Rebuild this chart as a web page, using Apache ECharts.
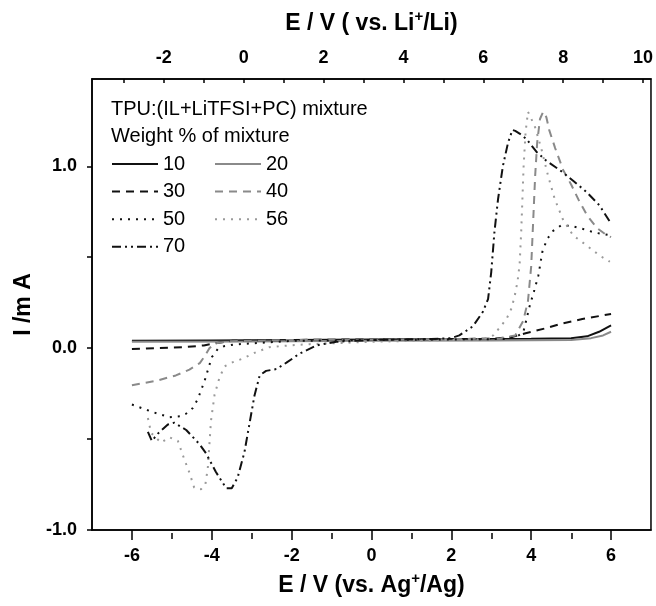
<!DOCTYPE html>
<html lang="en">
<head>
    <meta charset="UTF-8">
    <title>TPU mixture CV</title>
    <style>
        html, body {
            margin: 0;
            padding: 0;
            background: #fff;
        }

        #main {
            width: 656px;
            height: 606px;
        }
    </style>
</head>
<body>
<div id="main"></div>
<script src="https://cdn.jsdelivr.net/npm/echarts/dist/echarts.min.js"></script>
<script>
    // tick values
    var bottomLabels = [-6, -4, -2, 0, 2, 4, 6];
    var bottomMinor = [-5, -3, -1, 1, 3, 5];
    var topLabels = [-2, 0, 2, 4, 6, 8, 10];
    var topTicks = [-3, -2, -1, 0, 1, 2, 3, 4, 5, 6, 7, 8, 9, 10];
    var leftLabels = [-1, 0, 1];
    var leftTicks = [-1, -0.5, 0, 0.5, 1];

    // [E vs Ag+/Ag (V), I (mA)]
    var wt10 = [[-6.0, 0.04], [-4, 0.042], [-2, 0.045], [0, 0.047], [2, 0.05], [4, 0.052], [5.0, 0.055],
        [5.4, 0.065], [5.7, 0.09], [6.0, 0.125]];
    var wt20 = [[-6, 0.035], [-3, 0.037], [0, 0.04], [3, 0.042], [5, 0.045], [5.5, 0.055], [5.8, 0.07], [6, 0.09]];
    var wt30 = [[-6, -0.005], [-5.4, 0.0], [-4.7, 0.005], [-4.2, 0.015], [-3.9, 0.027], [-3.5, 0.04], [-2, 0.045],
        [0, 0.048], [2, 0.05], [3.0, 0.052], [3.5, 0.06], [3.86, 0.082], [4.36, 0.109], [4.78, 0.136],
        [5.28, 0.16], [6, 0.188]];
    var wt40 = [[-6, -0.204], [-5.4, -0.18], [-4.9, -0.15], [-4.56, -0.118], [-4.3, -0.082], [-4.18, -0.045],
        [-4.06, 0.0], [-3.89, 0.027], [-3.6, 0.038], [-2, 0.045], [0, 0.047], [2, 0.05], [3.2, 0.052],
        [3.6, 0.07], [3.8, 0.15], [3.92, 0.26], [4.0, 0.45], [4.05, 0.7], [4.1, 0.95], [4.15, 1.13],
        [4.22, 1.26], [4.3, 1.3], [4.38, 1.27], [4.45, 1.2], [4.6, 1.1], [4.8, 0.98], [5.0, 0.9],
        [5.2, 0.81], [5.4, 0.73], [5.65, 0.66], [5.9, 0.62], [6.0, 0.61]];
    var wt50 = [[-6.0, -0.31], [-5.5, -0.35], [-5.06, -0.38], [-4.8, -0.375], [-4.64, -0.36], [-4.48, -0.33],
        [-4.35, -0.28], [-4.18, -0.18], [-4.0, -0.05], [-3.85, -0.005], [-3.7, 0.01], [-3.45, 0.02],
        [-2, 0.04], [0, 0.045], [2, 0.048], [3.3, 0.05], [3.6, 0.06], [3.8, 0.085], [3.96, 0.23],
        [4.08, 0.32], [4.18, 0.40], [4.28, 0.53], [4.4, 0.6], [4.55, 0.645], [4.75, 0.675], [5.0, 0.672],
        [5.3, 0.655], [5.6, 0.635], [6.0, 0.62]];
    var wt56 = [[-5.6, -0.384], [-5.52, -0.466], [-5.27, -0.52], [-5.06, -0.49], [-4.85, -0.51], [-4.69, -0.61],
        [-4.56, -0.685], [-4.44, -0.767], [-4.27, -0.776], [-4.16, -0.749], [-4.1, -0.66], [-4.06, -0.53],
        [-4.02, -0.4], [-3.93, -0.256], [-3.81, -0.164], [-3.68, -0.1], [-3.47, -0.077], [-3.23, -0.058],
        [-2.89, -0.022], [-2.56, 0.005], [-2.06, 0.015], [-1.55, 0.022], [0, 0.035], [2, 0.045],
        [2.8, 0.05], [3.05, 0.07], [3.2, 0.11], [3.38, 0.16], [3.51, 0.22], [3.6, 0.3], [3.66, 0.37],
        [3.71, 0.46], [3.75, 0.64], [3.78, 0.82], [3.81, 1.0], [3.86, 1.19], [3.92, 1.3], [3.97, 1.29],
        [4.09, 1.22], [4.25, 1.1], [4.42, 0.95], [4.59, 0.82], [4.79, 0.71], [5.05, 0.62], [5.38, 0.566],
        [5.71, 0.51], [5.97, 0.475]];
    var wt70 = [[-5.6, -0.46], [-5.5, -0.51], [-5.35, -0.47], [-5.1, -0.42], [-4.94, -0.41], [-4.64, -0.45],
        [-4.3, -0.53], [-4.14, -0.58], [-3.9, -0.68], [-3.64, -0.77], [-3.5, -0.77], [-3.35, -0.71],
        [-3.18, -0.57], [-3.06, -0.42], [-2.93, -0.26], [-2.8, -0.15], [-2.64, -0.125], [-2.38, -0.115],
        [-2.13, -0.08], [-1.8, -0.03], [-1.38, 0.015], [-0.88, 0.035], [0, 0.045], [1.5, 0.05], [2.0, 0.055],
        [2.2, 0.07], [2.54, 0.12], [2.79, 0.2], [2.92, 0.27], [3.0, 0.42], [3.08, 0.64], [3.17, 0.82],
        [3.29, 1.0], [3.42, 1.13], [3.53, 1.2], [3.6, 1.195], [3.71, 1.18], [3.88, 1.15], [4.13, 1.08],
        [4.38, 1.03], [4.71, 0.98], [5.05, 0.92], [5.38, 0.86], [5.71, 0.785], [6.0, 0.685]];

    var FONT = 'Liberation Sans, Arial, sans-serif';
    var BLACK = '#111';
    var GREY = '#8a8a8a';

    var line = function (name, data, color, dash) {
        return {
            name: name,
            type: 'line',
            xAxisIndex: 0,
            yAxisIndex: 0,
            data: data,
            symbol: 'none',
            itemStyle: {color: color},
            lineStyle: {color: color, width: 2, type: dash}
        };
    };

    var dashed = [8, 6];
    var dotted = [2, 6];
    var dashDotDot = [9, 4, 2, 4, 2, 4];

    var legendBase = {
        orient: 'vertical',
        top: 154,
        padding: 0,
        itemWidth: 46,
        itemHeight: 14,
        itemGap: 7.6,
        selectedMode: false,
        itemStyle: {opacity: 0},
        textStyle: {fontSize: 20, lineHeight: 20, color: '#000', fontFamily: FONT}
    };

    var tickLabel = {fontSize: 18, fontWeight: 'bold', color: '#000', fontFamily: FONT};
    var axisName = {
        fontSize: 23, fontWeight: 'bold', color: '#000', fontFamily: FONT, lineHeight: 30,
        rich: {sup: {fontSize: 15, fontWeight: 'bold', fontFamily: FONT, color: '#000', verticalAlign: 'top', lineHeight: 8}}
    };
    var axisLine = {show: true, onZero: false, lineStyle: {color: '#000', width: 1.5}};

    var option = {
        animation: false,
        backgroundColor: '#fff',
        title: {
            text: 'TPU:(IL+LiTFSI+PC) mixture\nWeight % of mixture',
            left: 111,
            top: 96,
            padding: 0,
            textStyle: {fontSize: 20, fontWeight: 'normal', lineHeight: 27, color: '#000', fontFamily: FONT}
        },
        legend: [
            Object.assign({}, legendBase, {left: 111, data: ['10', '30', '50', '70']}),
            Object.assign({}, legendBase, {left: 214, data: ['20', '40', '56']})
        ],
        grid: [
            {left: 92, right: 4, top: 79, bottom: 73, show: true, borderColor: '#000', borderWidth: 1.5},
            {left: 92, right: 4, top: 79, bottom: 73}
        ],
        xAxis: [
            {
                type: 'value',
                gridIndex: 0,
                position: 'bottom',
                min: -7,
                max: 7,
                name: 'E / V (vs. Ag{sup|+}/Ag)',
                nameLocation: 'middle',
                nameGap: 41,
                nameTextStyle: axisName,
                axisLine: axisLine,
                axisTick: {show: true, inside: false, length: 10, customValues: bottomLabels,
                    lineStyle: {color: '#000', width: 1.5}},
                axisLabel: {customValues: bottomLabels, margin: 17, textStyle: tickLabel},
                splitLine: {show: false}
            },
            {
                type: 'value',
                gridIndex: 0,
                position: 'top',
                min: -3.8,
                max: 10.2,
                name: 'E / V ( vs. Li{sup|+}/Li)',
                nameLocation: 'middle',
                nameGap: 40,
                nameTextStyle: axisName,
                axisLine: axisLine,
                axisTick: {show: true, inside: true, length: 4, customValues: topTicks,
                    lineStyle: {color: '#000', width: 1.5}},
                axisLabel: {customValues: topLabels, margin: 12, textStyle: tickLabel},
                splitLine: {show: false}
            },
            {
                type: 'value',
                gridIndex: 1,
                position: 'bottom',
                min: -7,
                max: 7,
                axisLine: {show: false, onZero: false},
                axisTick: {show: true, inside: false, length: 6, customValues: bottomMinor,
                    lineStyle: {color: '#000', width: 1.5}},
                axisLabel: {show: false},
                splitLine: {show: false}
            }
        ],
        yAxis: [
            {
                type: 'value',
                gridIndex: 0,
                position: 'left',
                min: -1,
                max: 1.48,
                name: 'I /m A',
                nameLocation: 'middle',
                nameGap: 43,
                nameTextStyle: {fontSize: 23, fontWeight: 'bold', color: '#000', fontFamily: FONT},
                axisLine: axisLine,
                axisTick: {show: true, inside: false, length: 5, customValues: leftTicks,
                    lineStyle: {color: '#000', width: 1.5}},
                axisLabel: {
                    customValues: leftLabels, margin: 15, textStyle: tickLabel,
                    formatter: function (v) {
                        return v.toFixed(1);
                    }
                },
                splitLine: {show: false}
            },
            {
                type: 'value',
                gridIndex: 1,
                min: -1,
                max: 1.48,
                show: false
            }
        ],
        series: [
            line('10', wt10, BLACK, 'solid'),
            line('20', wt20, GREY, 'solid'),
            line('30', wt30, BLACK, dashed),
            line('40', wt40, GREY, dashed),
            line('50', wt50, BLACK, dotted),
            line('56', wt56, '#9a9a9a', dotted),
            line('70', wt70, BLACK, dashDotDot)
        ]
    };

    var myChart = echarts.init(document.getElementById('main'));
    myChart.setOption(option);
</script>
</body>
</html>
